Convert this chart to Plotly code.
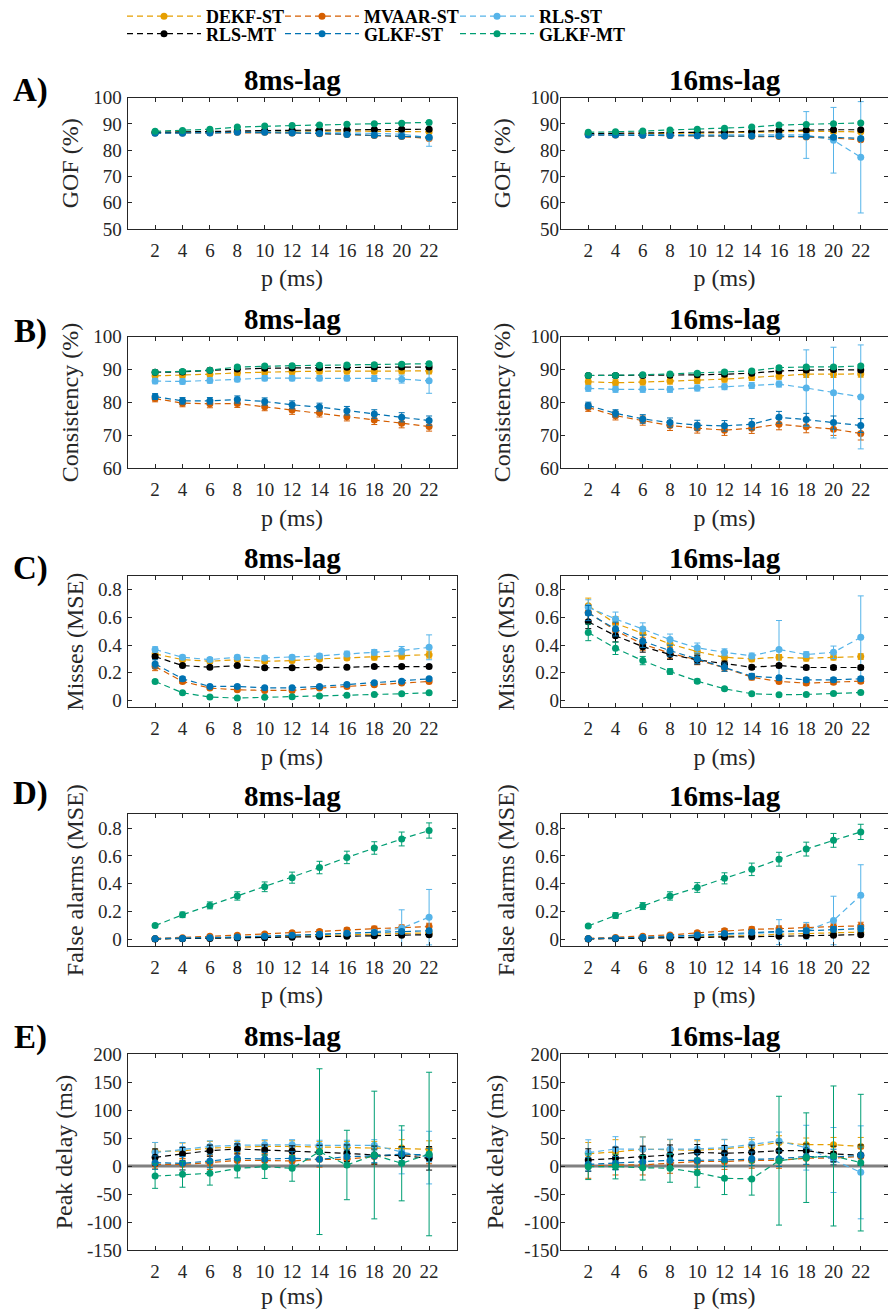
import plotly.graph_objects as go

# ---------------- data ----------------
P = [2, 4, 6, 8, 10, 12, 14, 16, 18, 20, 22]
SERIES = ["DEKF-ST", "MVAAR-ST", "RLS-ST", "RLS-MT", "GLKF-ST", "GLKF-MT"]
COLORS = {"DEKF-ST": "#E69F00", "MVAAR-ST": "#D55E00", "RLS-ST": "#56B4E9",
          "RLS-MT": "#000000", "GLKF-ST": "#0072B2", "GLKF-MT": "#009E73"}

GOF_8 = {
    "DEKF-ST": [86.8, 86.9, 87.0, 87.2, 87.3, 87.3, 87.3, 87.3, 87.2, 87.1, 87.0],
    "MVAAR-ST": [86.6, 86.6, 86.7, 86.8, 86.8, 86.6, 86.3, 86.0, 85.6, 85.2, 84.5],
    "RLS-ST": [86.7, 86.8, 86.9, 87.0, 87.0, 86.9, 86.8, 86.6, 86.4, 86.1, 84.8],
    "RLS-MT": [86.8, 86.9, 87.1, 87.3, 87.5, 87.6, 87.7, 87.8, 87.9, 88.0, 88.0],
    "GLKF-ST": [86.5, 86.5, 86.6, 86.8, 86.8, 86.6, 86.4, 86.0, 85.7, 85.3, 84.9],
    "GLKF-MT": [87.2, 87.5, 88.0, 88.8, 89.2, 89.4, 89.6, 89.9, 90.1, 90.3, 90.6],
}
GOF_8_ERR = {
    "DEKF-ST": [0.4, 0.4, 0.4, 0.4, 0.4, 0.4, 0.4, 0.5, 0.5, 0.5, 0.6],
    "MVAAR-ST": [0.4, 0.4, 0.4, 0.4, 0.4, 0.4, 0.5, 0.5, 0.5, 0.6, 0.7],
    "RLS-ST": [0.4, 0.4, 0.4, 0.4, 0.4, 0.4, 0.5, 0.5, 0.6, 1.0, 3.3],
    "RLS-MT": [0.3, 0.3, 0.3, 0.3, 0.3, 0.3, 0.3, 0.4, 0.4, 0.4, 0.4],
    "GLKF-ST": [0.4, 0.4, 0.4, 0.4, 0.4, 0.4, 0.4, 0.5, 0.5, 0.6, 0.7],
    "GLKF-MT": [0.3, 0.3, 0.3, 0.3, 0.3, 0.3, 0.3, 0.3, 0.3, 0.3, 0.4],
}
GOF_16 = {
    "DEKF-ST": [86.2, 86.2, 86.3, 86.4, 86.5, 86.6, 86.8, 87.0, 87.2, 87.1, 87.0],
    "MVAAR-ST": [85.9, 85.8, 85.7, 85.6, 85.5, 85.4, 85.3, 85.2, 85.0, 84.6, 84.0],
    "RLS-ST": [86.0, 86.0, 86.0, 86.0, 86.0, 86.0, 86.0, 86.0, 85.8, 83.8, 77.3],
    "RLS-MT": [86.3, 86.4, 86.5, 86.6, 86.8, 86.9, 87.1, 87.5, 87.7, 87.8, 87.8],
    "GLKF-ST": [85.8, 85.8, 85.7, 85.6, 85.5, 85.4, 85.4, 85.4, 85.2, 84.9, 84.5],
    "GLKF-MT": [86.8, 87.0, 87.3, 87.7, 88.0, 88.4, 88.8, 89.6, 89.8, 90.1, 90.4],
}
GOF_16_ERR = {
    "DEKF-ST": [0.4, 0.4, 0.4, 0.4, 0.4, 0.4, 0.5, 0.5, 0.5, 0.6, 0.6],
    "MVAAR-ST": [0.4, 0.4, 0.4, 0.4, 0.4, 0.4, 0.5, 0.5, 0.5, 0.6, 0.6],
    "RLS-ST": [0.4, 0.4, 0.4, 0.4, 0.5, 0.5, 0.5, 0.8, 8.9, 12.5, 21.2],
    "RLS-MT": [0.3, 0.3, 0.3, 0.3, 0.3, 0.3, 0.3, 0.4, 0.4, 0.4, 0.4],
    "GLKF-ST": [0.4, 0.4, 0.4, 0.4, 0.4, 0.4, 0.4, 0.5, 0.5, 0.6, 0.6],
    "GLKF-MT": [0.3, 0.3, 0.3, 0.3, 0.3, 0.3, 0.3, 0.3, 0.3, 0.3, 0.4],
}

CONS_8 = {
    "DEKF-ST": [88.1, 88.3, 88.6, 89.0, 89.3, 89.4, 89.5, 89.5, 89.5, 89.6, 89.6],
    "MVAAR-ST": [81.2, 79.8, 79.6, 79.7, 78.7, 77.7, 76.9, 75.7, 74.7, 73.7, 72.7],
    "RLS-ST": [86.5, 86.4, 86.7, 87.1, 87.4, 87.4, 87.4, 87.4, 87.3, 87.1, 86.6],
    "RLS-MT": [89.2, 89.3, 89.8, 90.2, 90.4, 90.5, 90.6, 90.7, 90.8, 90.8, 90.8],
    "GLKF-ST": [81.8, 80.5, 80.5, 80.9, 80.3, 79.3, 78.6, 77.5, 76.5, 75.5, 74.5],
    "GLKF-MT": [89.2, 89.4, 89.8, 90.8, 91.1, 91.2, 91.3, 91.4, 91.5, 91.6, 91.8],
}
CONS_8_ERR = {
    "DEKF-ST": [0.8, 0.8, 0.8, 0.8, 0.8, 0.8, 0.8, 0.8, 0.8, 0.9, 0.9],
    "MVAAR-ST": [1.0, 1.1, 1.2, 1.2, 1.2, 1.3, 1.3, 1.3, 1.4, 1.4, 1.4],
    "RLS-ST": [0.8, 0.8, 0.8, 0.8, 0.8, 0.8, 0.8, 0.8, 0.9, 1.2, 3.8],
    "RLS-MT": [0.6, 0.6, 0.6, 0.6, 0.6, 0.6, 0.6, 0.6, 0.6, 0.6, 0.6],
    "GLKF-ST": [0.9, 1.0, 1.0, 1.1, 1.1, 1.2, 1.2, 1.3, 1.3, 1.4, 1.4],
    "GLKF-MT": [0.5, 0.5, 0.5, 0.5, 0.5, 0.5, 0.5, 0.5, 0.5, 0.5, 0.5],
}
CONS_16 = {
    "DEKF-ST": [86.3, 86.0, 86.2, 86.5, 86.7, 87.1, 87.6, 88.0, 88.6, 88.6, 88.7],
    "MVAAR-ST": [78.5, 76.0, 74.5, 73.0, 72.2, 71.6, 72.2, 73.4, 72.6, 71.9, 70.6],
    "RLS-ST": [84.3, 84.0, 84.0, 84.0, 84.4, 84.8, 85.2, 85.6, 84.4, 83.0, 81.7],
    "RLS-MT": [88.2, 88.2, 88.2, 88.3, 88.4, 88.6, 88.9, 89.6, 89.9, 90.0, 89.9],
    "GLKF-ST": [79.1, 76.7, 75.0, 73.9, 73.1, 72.9, 73.4, 75.5, 74.8, 73.9, 73.0],
    "GLKF-MT": [88.2, 88.2, 88.4, 88.7, 88.9, 89.3, 89.6, 90.6, 90.8, 90.8, 91.1],
}
CONS_16_ERR = {
    "DEKF-ST": [0.9, 0.9, 0.9, 0.9, 0.9, 0.9, 0.9, 0.9, 1.0, 1.0, 1.0],
    "MVAAR-ST": [1.2, 1.3, 1.4, 1.5, 1.5, 1.6, 1.6, 1.7, 1.8, 1.9, 2.0],
    "RLS-ST": [0.9, 0.9, 0.9, 0.9, 0.9, 0.9, 0.9, 0.9, 11.6, 13.8, 15.8],
    "RLS-MT": [0.6, 0.6, 0.6, 0.6, 0.6, 0.6, 0.6, 0.6, 0.6, 0.6, 0.6],
    "GLKF-ST": [1.0, 1.1, 1.3, 1.4, 1.5, 1.6, 1.7, 1.8, 1.9, 2.0, 2.1],
    "GLKF-MT": [0.5, 0.5, 0.5, 0.5, 0.5, 0.5, 0.5, 0.5, 0.5, 0.5, 0.5],
}

MISS_8 = {
    "DEKF-ST": [0.336, 0.295, 0.283, 0.295, 0.283, 0.288, 0.300, 0.307, 0.312, 0.319, 0.331],
    "MVAAR-ST": [0.245, 0.137, 0.089, 0.077, 0.072, 0.072, 0.089, 0.101, 0.113, 0.125, 0.137],
    "RLS-ST": [0.368, 0.312, 0.295, 0.312, 0.307, 0.312, 0.322, 0.336, 0.348, 0.360, 0.384],
    "RLS-MT": [0.317, 0.252, 0.240, 0.252, 0.236, 0.236, 0.240, 0.240, 0.245, 0.245, 0.245],
    "GLKF-ST": [0.264, 0.156, 0.101, 0.101, 0.091, 0.091, 0.101, 0.115, 0.127, 0.139, 0.156],
    "GLKF-MT": [0.137, 0.055, 0.024, 0.017, 0.022, 0.026, 0.031, 0.038, 0.043, 0.048, 0.055],
}
MISS_8_ERR = {
    "DEKF-ST": [0.020, 0.015, 0.015, 0.015, 0.015, 0.015, 0.015, 0.015, 0.020, 0.020, 0.025],
    "MVAAR-ST": [0.030, 0.015, 0.010, 0.010, 0.010, 0.010, 0.010, 0.010, 0.010, 0.010, 0.010],
    "RLS-ST": [0.020, 0.015, 0.015, 0.015, 0.015, 0.015, 0.015, 0.020, 0.020, 0.030, 0.090],
    "RLS-MT": [0.015, 0.010, 0.010, 0.010, 0.010, 0.010, 0.010, 0.010, 0.010, 0.010, 0.010],
    "GLKF-ST": [0.030, 0.015, 0.010, 0.010, 0.010, 0.010, 0.010, 0.010, 0.010, 0.010, 0.010],
    "GLKF-MT": [0.010, 0.008, 0.005, 0.005, 0.005, 0.005, 0.005, 0.005, 0.005, 0.005, 0.005],
}
MISS_16 = {
    "DEKF-ST": [0.685, 0.557, 0.485, 0.408, 0.353, 0.312, 0.300, 0.312, 0.305, 0.312, 0.317],
    "MVAAR-ST": [0.637, 0.505, 0.408, 0.341, 0.293, 0.236, 0.168, 0.137, 0.125, 0.132, 0.139],
    "RLS-ST": [0.673, 0.589, 0.516, 0.440, 0.380, 0.348, 0.322, 0.368, 0.332, 0.348, 0.456],
    "RLS-MT": [0.569, 0.468, 0.389, 0.332, 0.293, 0.264, 0.240, 0.252, 0.238, 0.238, 0.238],
    "GLKF-ST": [0.632, 0.516, 0.428, 0.360, 0.300, 0.240, 0.175, 0.163, 0.149, 0.149, 0.156],
    "GLKF-MT": [0.492, 0.377, 0.288, 0.209, 0.139, 0.084, 0.048, 0.041, 0.043, 0.050, 0.057],
}
MISS_16_ERR = {
    "DEKF-ST": [0.055, 0.050, 0.045, 0.040, 0.035, 0.025, 0.020, 0.020, 0.020, 0.020, 0.020],
    "MVAAR-ST": [0.055, 0.050, 0.045, 0.040, 0.035, 0.025, 0.020, 0.015, 0.015, 0.015, 0.015],
    "RLS-ST": [0.055, 0.050, 0.045, 0.040, 0.035, 0.025, 0.020, 0.210, 0.020, 0.045, 0.300],
    "RLS-MT": [0.050, 0.045, 0.040, 0.035, 0.030, 0.020, 0.015, 0.015, 0.015, 0.015, 0.015],
    "GLKF-ST": [0.055, 0.050, 0.045, 0.040, 0.035, 0.030, 0.020, 0.015, 0.015, 0.015, 0.015],
    "GLKF-MT": [0.060, 0.045, 0.030, 0.020, 0.015, 0.010, 0.008, 0.008, 0.008, 0.008, 0.008],
}

FA_8 = {
    "DEKF-ST": [0.002, 0.004, 0.008, 0.012, 0.016, 0.020, 0.025, 0.030, 0.035, 0.040, 0.045],
    "MVAAR-ST": [0.005, 0.010, 0.020, 0.028, 0.036, 0.045, 0.055, 0.065, 0.075, 0.082, 0.090],
    "RLS-ST": [0.003, 0.005, 0.008, 0.012, 0.018, 0.025, 0.033, 0.040, 0.050, 0.078, 0.158],
    "RLS-MT": [0.001, 0.003, 0.005, 0.008, 0.010, 0.013, 0.016, 0.020, 0.024, 0.028, 0.032],
    "GLKF-ST": [0.003, 0.005, 0.010, 0.015, 0.020, 0.027, 0.034, 0.042, 0.048, 0.055, 0.060],
    "GLKF-MT": [0.097, 0.175, 0.243, 0.311, 0.377, 0.443, 0.516, 0.589, 0.657, 0.722, 0.783],
}
FA_8_ERR = {
    "DEKF-ST": [0.002, 0.003, 0.004, 0.005, 0.006, 0.007, 0.008, 0.009, 0.010, 0.012, 0.014],
    "MVAAR-ST": [0.003, 0.005, 0.006, 0.008, 0.010, 0.012, 0.014, 0.016, 0.018, 0.020, 0.024],
    "RLS-ST": [0.002, 0.003, 0.004, 0.005, 0.006, 0.008, 0.010, 0.012, 0.015, 0.133, 0.200],
    "RLS-MT": [0.001, 0.002, 0.003, 0.004, 0.005, 0.006, 0.007, 0.008, 0.009, 0.010, 0.011],
    "GLKF-ST": [0.002, 0.003, 0.004, 0.005, 0.006, 0.007, 0.008, 0.009, 0.010, 0.011, 0.012],
    "GLKF-MT": [0.010, 0.020, 0.025, 0.030, 0.035, 0.040, 0.045, 0.045, 0.045, 0.050, 0.055],
}
FA_16 = {
    "DEKF-ST": [0.002, 0.004, 0.008, 0.012, 0.016, 0.020, 0.025, 0.035, 0.040, 0.045, 0.050],
    "MVAAR-ST": [0.005, 0.012, 0.020, 0.030, 0.045, 0.060, 0.070, 0.075, 0.085, 0.090, 0.095],
    "RLS-ST": [0.003, 0.005, 0.010, 0.015, 0.022, 0.030, 0.040, 0.050, 0.060, 0.134, 0.316],
    "RLS-MT": [0.001, 0.003, 0.005, 0.008, 0.010, 0.013, 0.016, 0.020, 0.024, 0.028, 0.032],
    "GLKF-ST": [0.003, 0.006, 0.012, 0.020, 0.030, 0.040, 0.050, 0.055, 0.060, 0.070, 0.075],
    "GLKF-MT": [0.095, 0.170, 0.238, 0.311, 0.372, 0.438, 0.503, 0.576, 0.649, 0.712, 0.773],
}
FA_16_ERR = {
    "DEKF-ST": [0.002, 0.003, 0.004, 0.005, 0.006, 0.007, 0.008, 0.010, 0.012, 0.014, 0.016],
    "MVAAR-ST": [0.003, 0.005, 0.007, 0.010, 0.013, 0.016, 0.018, 0.020, 0.022, 0.024, 0.026],
    "RLS-ST": [0.002, 0.003, 0.004, 0.006, 0.008, 0.010, 0.015, 0.090, 0.060, 0.175, 0.220],
    "RLS-MT": [0.001, 0.002, 0.003, 0.004, 0.005, 0.006, 0.007, 0.008, 0.009, 0.010, 0.011],
    "GLKF-ST": [0.002, 0.003, 0.005, 0.007, 0.009, 0.011, 0.013, 0.015, 0.017, 0.019, 0.021],
    "GLKF-MT": [0.010, 0.020, 0.025, 0.030, 0.035, 0.040, 0.045, 0.050, 0.050, 0.050, 0.055],
}

DELAY_8 = {
    "DEKF-ST": [26, 27, 32, 34, 35, 35, 34, 33, 33, 32, 30],
    "MVAAR-ST": [3, 3, 6, 10, 10, 9, 12, 12, 17, 20, 18],
    "RLS-ST": [24, 30, 35, 37, 38, 38, 37, 37, 37, 25, 15],
    "RLS-MT": [15.5, 21.4, 27.4, 30.4, 28.6, 27, 25, 22.6, 19.6, 18.5, 13.7],
    "GLKF-ST": [6, 4.8, 8.9, 13.7, 12.5, 13.7, 11.9, 16.7, 17.9, 21.4, 19.6],
    "GLKF-MT": [-17.9, -14.9, -13.1, -4.2, -1.2, -4.2, 25.6, 1.8, 19.6, 4.8, 21.4],
}
DELAY_8_ERR = {
    "DEKF-ST": [16, 14, 12, 10, 10, 10, 10, 11, 11, 15, 15],
    "MVAAR-ST": [8, 10, 12, 12, 12, 12, 14, 14, 14, 14, 14],
    "RLS-ST": [18, 12, 10, 9, 9, 9, 9, 9, 10, 39, 47],
    "RLS-MT": [15, 12, 10, 9, 9, 9, 12, 15, 16, 16, 21],
    "GLKF-ST": [12, 12, 12, 12, 12, 12, 12, 12, 12, 12, 12],
    "GLKF-MT": [22, 23, 21, 17, 21, 23, 148, 62, 114, 67, 146],
}
DELAY_16 = {
    "DEKF-ST": [22, 25, 30, 29, 28, 31, 35, 42, 38, 38, 35],
    "MVAAR-ST": [0, 2, 2, 5, 8, 8, 10, 10, 14, 14, 17],
    "RLS-ST": [23.8, 30.4, 29.8, 29.8, 30.4, 32.7, 38.7, 44.6, 32.7, 10.7, -11.3],
    "RLS-MT": [10.7, 13.7, 15.5, 19.6, 24.4, 22.6, 24.4, 27.4, 27.4, 21.4, 19.6],
    "GLKF-ST": [3, 5, 7, 10, 10, 11, 13, 13, 17, 16, 19],
    "GLKF-MT": [-1.2, -1, -3, -4, -11.9, -22, -23, 9.5, 14.9, 17.9, 6],
}
DELAY_16_ERR = {
    "DEKF-ST": [20, 22, 22, 18, 17, 16, 12, 12, 12, 13, 16],
    "MVAAR-ST": [22, 18, 18, 18, 14, 14, 14, 14, 12, 12, 14],
    "RLS-ST": [23, 22, 22, 18, 17, 15, 12, 16, 40, 58, 83],
    "RLS-MT": [20, 20, 20, 18, 14, 14, 13, 14, 12, 14, 18],
    "GLKF-ST": [12, 12, 12, 12, 12, 12, 12, 14, 14, 14, 15],
    "GLKF-MT": [23, 22, 22, 25, 26, 29, 29, 115, 80, 125, 122],
}

ROW_LABELS = ["A)", "B)", "C)", "D)", "E)"]
Y_TITLES = ["GOF (%)", "Consistency (%)", "Misses (MSE)", "False alarms (MSE)", "Peak delay (ms)"]
LAG_TITLES = ["8ms-lag", "16ms-lag"]
X_TITLE = "p (ms)"
PANELS = [
    [(GOF_8, GOF_8_ERR), (GOF_16, GOF_16_ERR)],
    [(CONS_8, CONS_8_ERR), (CONS_16, CONS_16_ERR)],
    [(MISS_8, MISS_8_ERR), (MISS_16, MISS_16_ERR)],
    [(FA_8, FA_8_ERR), (FA_16, FA_16_ERR)],
    [(DELAY_8, DELAY_8_ERR), (DELAY_16, DELAY_16_ERR)],
]
Y_TICKS = [
    [50, 60, 70, 80, 90, 100],
    [60, 70, 80, 90, 100],
    [0, 0.2, 0.4, 0.6, 0.8],
    [0, 0.2, 0.4, 0.6, 0.8],
    [-150, -100, -50, 0, 50, 100, 150, 200],
]
Y_TICKTEXT = [
    ["50", "60", "70", "80", "90", "100"],
    ["60", "70", "80", "90", "100"],
    ["0", "0.2", "0.4", "0.6", "0.8"],
    ["0", "0.2", "0.4", "0.6", "0.8"],
    ["-150", "-100", "-50", "0", "50", "100", "150", "200"],
]

# ---------------- layout / style ----------------
W, H = 888, 1310
FONT = "Liberation Serif"
AX = "#262626"
Y_RANGES = [[50, 100], [60, 100], [-0.05, 0.9], [-0.05, 0.9], [-150, 200]]
X_DOMAINS = [[127.7 / W, 456.5 / W], [561 / W, 1.0]]
ROW_PX = [(97.7, 229.0), (336.7, 468.3), (576.0, 707.3), (814.3, 946.0), (1054.0, 1250.0)]
ROW_LABEL_Y = [90, 332, 568, 793, 1037]
# legend box (left, top) in pixels
LEGEND_POS = {"DEKF-ST": (122, -2), "MVAAR-ST": (280, -2), "RLS-ST": (455, -2),
              "RLS-MT": (122, 15.5), "GLKF-ST": (280, 15.5), "GLKF-MT": (455, 15.5)}

fig = go.Figure()
layout = dict(width=W, height=H, margin=dict(l=0, r=0, t=0, b=0, autoexpand=False),
              paper_bgcolor="white", plot_bgcolor="white", hovermode=False,
              font=dict(family=FONT, color=AX), showlegend=True)
annotations = []
shapes = []

legend_keys = {}
for k, s in enumerate(SERIES):
    key = "legend" if k == 0 else f"legend{k + 1}"
    legend_keys[s] = key
    lx, ly = LEGEND_POS[s]
    layout[key] = dict(x=lx / W, y=1 - ly / H, xanchor="left", yanchor="top",
                       bgcolor="rgba(0,0,0,0)", borderwidth=0, itemwidth=74,
                       font=dict(family=FONT, size=18, color="black", weight="bold"))

for r in range(5):
    y0p, y1p = ROW_PX[r]
    ydom = [1 - y1p / H, 1 - y0p / H]
    for c in range(2):
        i = r * 2 + c + 1
        xa = "x" if i == 1 else f"x{i}"
        ya = "y" if i == 1 else f"y{i}"
        means, errs = PANELS[r][c]
        for s in SERIES:
            col = COLORS[s]
            fig.add_trace(go.Scatter(
                x=P, y=means[s], name=s, xaxis=xa, yaxis=ya,
                mode="lines+markers",
                line=dict(color=col, width=1.2, dash="6px,4px"),
                marker=dict(color=col, size=7),
                error_y=dict(type="data", array=errs[s], visible=True,
                             color=col, thickness=1, width=3),
                showlegend=(i == 1), legend=legend_keys[s],
                cliponaxis=True,
            ))
        common = dict(showline=True, linecolor=AX, linewidth=1.3, mirror="ticks",
                      ticks="inside", ticklen=4, tickwidth=1, tickcolor=AX,
                      showgrid=False, zeroline=False, automargin=False,
                      tickfont=dict(family=FONT, size=19, color=AX))
        layout["xaxis" if i == 1 else f"xaxis{i}"] = dict(
            common, domain=X_DOMAINS[c], anchor=ya, range=[0, 24],
            tickmode="array", tickvals=P, ticktext=[str(v) for v in P],
            ticklabelstandoff=4,
            title=dict(text=X_TITLE, font=dict(family=FONT, size=24, color=AX),
                       standoff=(9 if r < 4 else 6)))
        layout["yaxis" if i == 1 else f"yaxis{i}"] = dict(
            common, domain=ydom, anchor=xa, range=Y_RANGES[r],
            tickmode="array", tickvals=Y_TICKS[r], ticktext=Y_TICKTEXT[r],
            ticklabelstandoff=(1 if c == 0 else -3),
            title=dict(text=Y_TITLES[r], font=dict(family=FONT, size=24, color=AX),
                       standoff=(7 if c == 0 else 13)))
        xmid = (X_DOMAINS[c][0] + X_DOMAINS[c][1]) / 2
        annotations.append(dict(text=f"<b>{LAG_TITLES[c]}</b>", x=xmid, y=ydom[1],
                                xref="paper", yref="paper", xanchor="center", yanchor="bottom",
                                showarrow=False, font=dict(family=FONT, size=29, color="black")))
        if r == 4:
            shapes.append(dict(type="line", xref=f"{xa} domain", yref=ya, x0=0, x1=1, y0=0, y1=0,
                               line=dict(color="#808080", width=3), layer="below"))
    annotations.append(dict(text=f"<b>{ROW_LABELS[r]}</b>", x=30 / W, y=1 - ROW_LABEL_Y[r] / H,
                            xref="paper", yref="paper", xanchor="center", yanchor="middle",
                            showarrow=False, font=dict(family=FONT, size=33, color="black")))

layout["annotations"] = annotations
layout["shapes"] = shapes
fig.update_layout(**layout)
fig.write_html("out.html", config={"displayModeBar": False},
               post_script="document.body.style.margin='0px';document.body.style.padding='0px';"
                           "document.body.style.overflow='hidden';")
